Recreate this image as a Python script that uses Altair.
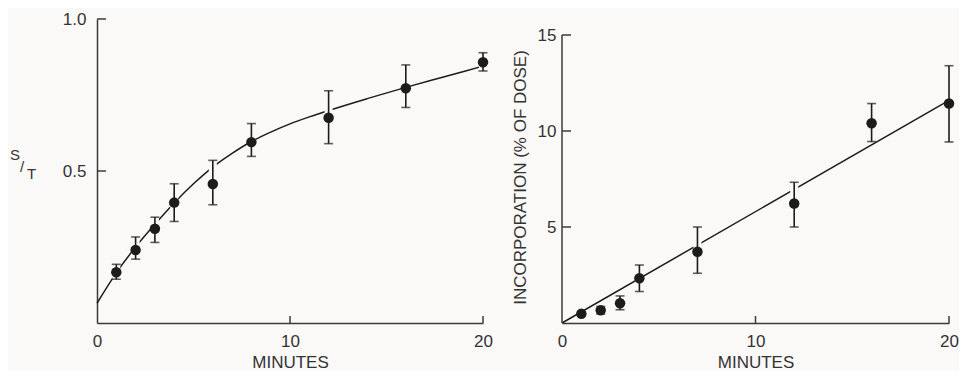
import altair as alt
import pandas as pd

# ---------------- data ----------------
# Left panel: S/T vs minutes
st_minutes = [1, 2, 3, 4, 6, 8, 12, 16, 20]
st_mean = [0.167, 0.240, 0.310, 0.396, 0.457, 0.595, 0.675, 0.772, 0.858]
st_low = [0.144, 0.210, 0.265, 0.334, 0.389, 0.548, 0.590, 0.709, 0.829]
st_high = [0.193, 0.283, 0.348, 0.458, 0.535, 0.656, 0.764, 0.849, 0.889]
st_curve_minutes = [0, 1, 2, 3, 4, 5, 6, 7, 8, 9, 10, 11, 12, 14, 16, 18, 20]
st_curve_values = [0.065, 0.165, 0.250, 0.325, 0.395, 0.458, 0.513, 0.558,
                   0.597, 0.628, 0.655, 0.678, 0.699, 0.738, 0.775, 0.810, 0.845]
st_y_ticks = [0.5, 1.0]
st_x_ticks = [10, 20]

# Right panel: incorporation (% of dose) vs minutes
inc_minutes = [1, 2, 3, 4, 7, 12, 16, 20]
inc_mean = [0.48, 0.66, 1.03, 2.33, 3.71, 6.22, 10.40, 11.43]
inc_low = [0.48, 0.47, 0.69, 1.64, 2.59, 5.00, 9.45, 9.43]
inc_high = [0.48, 0.86, 1.41, 3.02, 5.00, 7.33, 11.43, 13.40]
inc_line_minutes = [0, 20]
inc_line_values = [0.0, 11.6]
inc_y_ticks = [5, 10, 15]
inc_x_ticks = [10, 20]

# ---------------- style ----------------
INK = "#1c1c1c"
AXIS = "#3a3a3a"
TEXT = "#333333"
BG = "#fbf9f7"
FONT = "Liberation Sans"
H = 304

st_pts = pd.DataFrame({"m": st_minutes, "v": st_mean, "lo": st_low, "hi": st_high})
st_curve = pd.DataFrame({"m": st_curve_minutes, "v": st_curve_values})
inc_pts = pd.DataFrame({"m": inc_minutes, "v": inc_mean, "lo": inc_low, "hi": inc_high})
inc_line = pd.DataFrame({"m": inc_line_minutes, "v": inc_line_values})


def x_axis():
    return alt.Axis(values=[0, 10, 20], ticks=False, grid=False, labelPadding=10,
                    domainColor=AXIS, domainWidth=1.5, title="MINUTES",
                    titlePadding=5, labelFlush=False)


def make_panel(pts, curve, y_dom, y_axis, y_ticks, x_ticks, width, extra=None):
    xs = alt.Scale(domain=[0, 20], nice=False, zero=False)
    ys = alt.Scale(domain=y_dom, nice=False, zero=False)
    X = alt.X("m:Q", scale=xs, axis=x_axis())
    Y = alt.Y("v:Q", scale=ys, axis=y_axis)
    YLO = alt.Y("lo:Q", scale=ys, axis=y_axis)
    YHI = alt.Y("hi:Q", scale=ys, axis=y_axis)

    line = alt.Chart(curve).mark_line(color=INK, strokeWidth=1.5,
                                      interpolate="monotone").encode(x=X, y=Y)
    halo = alt.Chart(pts).mark_rule(color=BG, strokeWidth=8).encode(
        x=X, y=YLO, y2="hi:Q")
    bars = alt.Chart(pts).mark_rule(color=INK, strokeWidth=1.6).encode(
        x=X, y=YLO, y2="hi:Q")
    cap_lo = alt.Chart(pts).mark_tick(color=INK, orient="horizontal", size=9,
                                      thickness=1.6).encode(x=X, y=YLO)
    cap_hi = alt.Chart(pts).mark_tick(color=INK, orient="horizontal", size=9,
                                      thickness=1.6).encode(x=X, y=YHI)
    dots = alt.Chart(pts).mark_circle(color=INK, opacity=1, size=110).encode(x=X, y=Y)

    yt = alt.Chart(pd.DataFrame({"v": y_ticks})).mark_rule(
        color=AXIS, strokeWidth=1.5).encode(y=Y, x=alt.value(0), x2=alt.value(9))
    xt = alt.Chart(pd.DataFrame({"m": x_ticks})).mark_rule(
        color=AXIS, strokeWidth=1.5).encode(x=X, y=alt.value(H), y2=alt.value(H - 7))

    layers = [line, halo, bars, cap_lo, cap_hi, dots, yt, xt]
    if extra is not None:
        layers += extra(X, Y, ys)
    return alt.layer(*layers).properties(width=width, height=H)


# Left panel
left_y_axis = alt.Axis(values=st_y_ticks, format=".1f", ticks=False, grid=False,
                       labelPadding=11, domainColor=AXIS, domainWidth=1.5,
                       title=None)


def left_extra(X, Y, ys):
    one = pd.DataFrame({"k": [0]})
    s = alt.Chart(one).mark_text(text="S", align="left", baseline="middle",
                                 font=FONT, fontSize=15, color=TEXT).encode(
        x=alt.value(-87), y=alt.value(136))
    sl = alt.Chart(one).mark_text(text="/", align="left", baseline="middle",
                                  font=FONT, fontSize=15, color=TEXT).encode(
        x=alt.value(-77), y=alt.value(148))
    t = alt.Chart(one).mark_text(text="T", align="left", baseline="middle",
                                 font=FONT, fontSize=15, color=TEXT).encode(
        x=alt.value(-70), y=alt.value(155))
    return [s, sl, t]


left = make_panel(st_pts, st_curve, [0, 1.0], left_y_axis, st_y_ticks,
                  st_x_ticks, 386, left_extra)

# Right panel
right_top = 15 + 16 / 19.2
right_y_axis = alt.Axis(values=inc_y_ticks, ticks=False, grid=False,
                        labelPadding=6, domain=False,
                        title="INCORPORATION (% OF DOSE)", titlePadding=8,
                        titleY=158)


def right_extra(X, Y, ys):
    dom = alt.Chart(pd.DataFrame({"v": [0.0], "v2": [15.0]})).mark_rule(
        color=AXIS, strokeWidth=1.5).encode(x=alt.value(0), y=Y, y2="v2:Q")
    return [dom]


right = make_panel(inc_pts, inc_line, [0, right_top], right_y_axis, inc_y_ticks,
                   inc_x_ticks, 387, right_extra)

chart = alt.hconcat(left, right, spacing=18).properties(
    background=BG,
    padding={"left": 2, "top": 2, "right": 0, "bottom": 0},
).configure_view(stroke=None).configure_axis(
    labelFont=FONT, labelFontSize=17, labelColor=TEXT,
    titleFont=FONT, titleFontSize=17, titleFontWeight="normal", titleColor=TEXT,
)

chart.save("out.html", embed_options={"renderer": "svg", "actions": False})
